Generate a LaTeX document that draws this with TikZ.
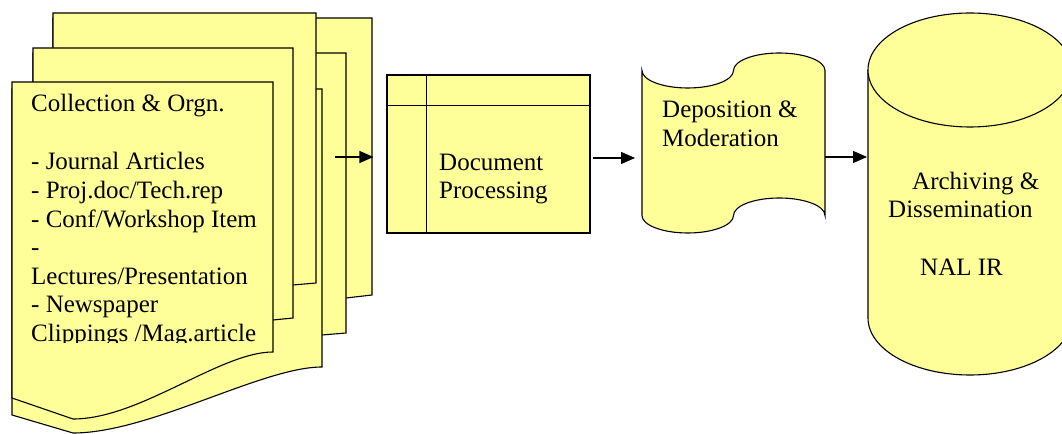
\documentclass[tikz,border=0pt]{standalone}
\usepackage{fontspec}
\setmainfont{Liberation Serif}
\newfontfamily\tnr{Liberation Serif}
\usetikzlibrary{arrows.meta}
\definecolor{paper}{HTML}{FFFF99}
\tikzset{
  shapebox/.style={draw=black, fill=paper, line width=1.1bp, line join=miter},
  txt/.style={inner sep=0pt, anchor=base west, font=\tnr\fontsize{25bp}{28.75bp}\selectfont},
  arr/.style={-{Triangle[length=14bp,width=12bp]}, line width=1.2bp},
}
\begin{document}
\begin{tikzpicture}[x=1bp,y=-1bp]
\clip (0,0) rectangle (1062,434);
\fill[white] (0,0) rectangle (1062,434);

% ---- multi-document stack (two overlapping stacks) ----
% larger stack behind
\draw[shapebox] (53,18) -- (372,18) -- (372,295) -- (346,298) -- (53,320) -- cycle;
\draw[shapebox] (33,53) -- (346,53) -- (346,333) -- (322,335) -- (33,360) -- cycle;
\draw[shapebox] (12,89) -- (322,89) -- (322,367) .. controls (262,367) and (150,433) .. (73,433) -- (12,415) -- cycle;
% smaller stack in front
\draw[shapebox] (53,13) -- (316,13) -- (316,283) -- (293,285) -- (53,300) -- cycle;
\draw[shapebox] (33,48) -- (293,48) -- (293,318) -- (273,320) -- (33,340) -- cycle;
\draw[shapebox] (12,82) -- (273,82) -- (273,352) .. controls (220,352) and (140,419) .. (73,419) -- (12,398) -- cycle;

\begin{scope}
\clip (0,0) rectangle (1062,343);
\node[txt] (c1) at (31,112) {Collection \& Orgn.};
\node[txt] (c3) at (31,170) {- Journal Articles};
\node[txt] (c4) at (31,199) {- Proj.doc/Tech.rep};
\node[txt] (c5) at (31,228) {- Conf/Workshop Item};
\node[txt] (c6) at (31,256) {-};
\node[txt] (c7) at (31,285) {Lectures/Presentation};
\node[txt] (c8) at (31,313) {- Newspaper};
\node[txt] (c9) at (31,342) {Clippings /Mag.article};
\end{scope}

% ---- Document Processing (internal storage) ----
\node[shapebox, minimum width=203bp, minimum height=158bp, inner sep=0pt] (dp) at (488.5,154) {};
\draw[line width=1.1bp] ([xshift=40bp]dp.north west) -- ([xshift=40bp]dp.south west);
\draw[line width=1.1bp] ([yshift=-31bp]dp.north west) -- ([yshift=-31bp]dp.north east);
\node[txt] (dp1) at (439,171) {Document};
\node[txt] (dp2) at (439,199) {Processing};

% ---- Deposition & Moderation (punched tape) ----
\draw[shapebox] (642,70.5)
  arc[start angle=180, end angle=360, x radius=45.75bp, y radius=17.5bp]
  arc[start angle=180, end angle=0, x radius=45.75bp, y radius=17.5bp]
  -- (825,215.5)
  arc[start angle=0, end angle=180, x radius=45.75bp, y radius=17.5bp]
  arc[start angle=0, end angle=-180, x radius=45.75bp, y radius=17.5bp]
  -- cycle;
\node[txt] (dm1) at (662,118) {Deposition \&};
\node[txt] (dm2) at (662,147) {Moderation};
\coordinate (depW) at (642,157);
\coordinate (depE) at (825,157);

% ---- Archiving & Dissemination (cylinder) ----
\draw[shapebox] (868,70) -- (868,318)
  arc[start angle=180, end angle=360, x radius=102bp, y radius=57bp]
  -- (1072,70);
\draw[shapebox] (970,70) ellipse [x radius=102bp, y radius=57bp];
\node[txt] (ad1) at (912,190) {Archiving \&};
\node[txt] (ad2) at (888,218) {Dissemination};
\node[txt] (ad3) at (920,276) {NAL IR};
\coordinate (cylW) at (868,157);

% ---- connectors ----
\coordinate (a1) at (335,157);
\coordinate (a2) at (593,158);
\draw[arr, shorten >=13bp] (a1) -- (dp.west |- a1);
\draw[arr, shorten >=7bp] (a2) -- (depW |- a2);
\draw[arr, shorten >=1bp] (depE) -- (cylW);
\end{tikzpicture}
\end{document}
